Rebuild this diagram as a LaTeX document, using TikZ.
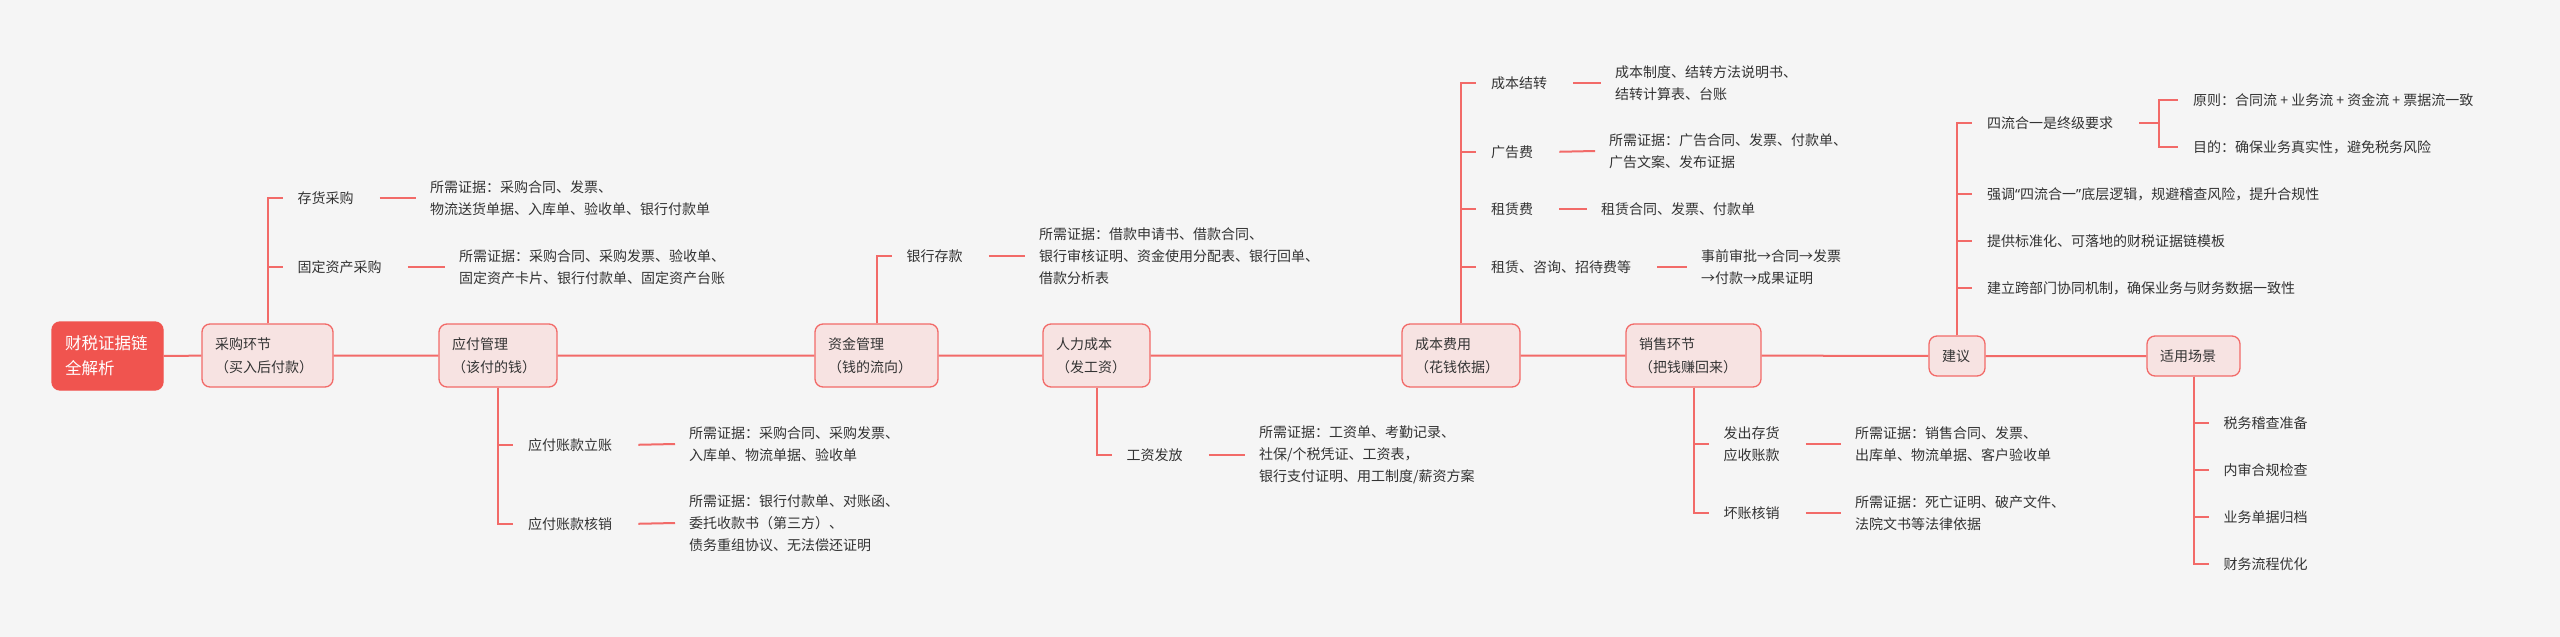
\documentclass[tikz,border=0pt]{standalone}
\usepackage{fontspec}
\setmainfont{Noto Sans CJK SC}
\newfontfamily\quotefont{Noto Sans}
\usepackage{xcolor}
\usepackage{tikz}
\usetikzlibrary{calc,positioning}

\definecolor{bgcol}{HTML}{F5F5F5}
\definecolor{redline}{HTML}{F26A68}
\definecolor{rootred}{HTML}{F0544F}
\definecolor{boxpink}{HTML}{F7E3E2}
\definecolor{txtgray}{HTML}{333333}

\begin{document}
\begin{tikzpicture}[x=1pt, y=-1pt, link/.style = {line width=2pt, draw=redline}]
		\tikzset{stage/.style={draw=redline, line width=1.3pt, rounded corners=8pt, fill=boxpink, inner xsep=13pt, inner ysep=0pt, minimum height=63pt, text width=#1, align=left, text=txtgray, font=\fontsize{14}{23}\selectfont}}
		\tikzset{leaf/.style={anchor=west, inner xsep=15pt, inner ysep=2pt, align=left, text=txtgray, font=\fontsize{14}{22}\selectfont}}
		\tikzset{proof/.style={anchor=west, inner xsep=14pt, inner ysep=2pt, align=left, text=txtgray, font=\fontsize{14}{22}\selectfont}}
		\tikzset{tail/.style={link, shorten <=11pt}}

		\fill[bgcol] (0,0) rectangle (2560,637);

		\node[stage=85pt, minimum height=68pt, fill=rootred, draw=rootred, text=white, font=\fontsize{16.5}{25}\selectfont] (root) at (107.5,356) {财税证据链\\全解析};
		\node[stage=105pt] (caigou) at (267.5,355.5) {采购环节\\（买入后付款）};
		\node[stage=92pt] (yingfu) at (498,355.5) {应付管理\\（该付的钱）};
		\node[stage=97pt] (zijin) at (876.5,355.5) {资金管理\\（钱的流向）};
		\node[stage=81pt] (renli) at (1096.5,355.5) {人力成本\\（发工资）};
		\node[stage=92pt] (chengben) at (1461,355.5) {成本费用\\（花钱依据）};
		\node[stage=109pt] (xiaoshou) at (1693.5,355.5) {销售环节\\（把钱赚回来）};
		\node[stage=30pt, minimum height=40pt] (jianyi) at (1957,356) {建议};
		\node[stage=67pt, minimum height=40pt] (changjing) at (2193.5,356) {适用场景};

		\draw [link] (root) -- (caigou) -- (yingfu) -- (zijin) -- (renli) -- (chengben) -- (xiaoshou) -- (jianyi) -- (changjing);

		\node[leaf] (cunhuo) at (282.5,198) {存货采购};
		\node[proof] (cunhuo-p) at (416,198) {所需证据：采购合同、发票、\\物流送货单据、入库单、验收单、银行付款单};
		\node[leaf] (guding) at (282.5,267) {固定资产采购};
		\node[proof] (guding-p) at (445,267) {所需证据：采购合同、采购发票、验收单、\\固定资产卡片、银行付款单、固定资产台账};
		\draw [link] (caigou.north) |- (cunhuo.west);
		\draw [link] (caigou.north) |- (guding.west);
		\draw [tail] (cunhuo.east) -- (cunhuo-p.west);
		\draw [tail] (guding.east) -- (guding-p.west);

		\node[leaf] (lizhang) at (513,445) {应付账款立账};
		\node[proof] (lizhang-p) at (675,444) {所需证据：采购合同、采购发票、\\入库单、物流单据、验收单};
		\node[leaf] (hexiao) at (513,524) {应付账款核销};
		\node[proof] (hexiao-p) at (675,523) {所需证据：银行付款单、对账函、\\委托收款书（第三方）、\\债务重组协议、无法偿还证明};
		\draw [link] (yingfu.south) |- (lizhang.west);
		\draw [link] (yingfu.south) |- (hexiao.west);
		\draw [tail] (lizhang.east) -- (lizhang-p.west);
		\draw [tail] (hexiao.east) -- (hexiao-p.west);

		\node[leaf] (cunkuan) at (891.5,256) {银行存款};
		\node[proof] (cunkuan-p) at (1025,256) {所需证据：借款申请书、借款合同、\\银行审核证明、资金使用分配表、银行回单、\\借款分析表};
		\draw [link] (zijin.north) |- (cunkuan.west);
		\draw [tail] (cunkuan.east) -- (cunkuan-p.west);

		\node[leaf] (gongzi) at (1111.5,455) {工资发放};
		\node[proof] (gongzi-p) at (1245,455) {所需证据：工资单、考勤记录、\\社保/个税凭证、工资表，\\银行支付证明、用工制度/薪资方案};
		\draw [link] (renli.south) |- (gongzi.west);
		\draw [tail] (gongzi.east) -- (gongzi-p.west);

		\node[leaf] (jiezhuan) at (1476,83) {成本结转};
		\node[proof] (jiezhuan-p) at (1601,83) {成本制度、结转方法说明书、\\结转计算表、台账};
		\node[leaf] (guanggao) at (1476,152) {广告费};
		\node[proof] (guanggao-p) at (1595,151) {所需证据：广告合同、发票、付款单、\\广告文案、发布证据};
		\node[leaf] (zulin) at (1476,209) {租赁费};
		\node[proof] (zulin-p) at (1587,209) {租赁合同、发票、付款单};
		\node[leaf] (zixun) at (1476,267) {租赁、咨询、招待费等};
		\node[proof] (zixun-p) at (1687,267) {事前审批→合同→发票\\→付款→成果证明};
		\draw [link] (chengben.north) |- (jiezhuan.west);
		\draw [link] (chengben.north) |- (guanggao.west);
		\draw [link] (chengben.north) |- (zulin.west);
		\draw [link] (chengben.north) |- (zixun.west);
		\draw [tail] (jiezhuan.east) -- (jiezhuan-p.west);
		\draw [tail] (guanggao.east) -- (guanggao-p.west);
		\draw [tail] (zulin.east) -- (zulin-p.west);
		\draw [tail] (zixun.east) -- (zixun-p.west);

		\node[leaf] (fachu) at (1708.5,444) {发出存货\\应收账款};
		\node[proof] (fachu-p) at (1841,444) {所需证据：销售合同、发票、\\出库单、物流单据、客户验收单};
		\node[leaf] (huaizhang) at (1708.5,513) {坏账核销};
		\node[proof] (huaizhang-p) at (1841,513) {所需证据：死亡证明、破产文件、\\法院文书等法律依据};
		\draw [link] (xiaoshou.south) |- (fachu.west);
		\draw [link] (xiaoshou.south) |- (huaizhang.west);
		\draw [tail] (fachu.east) -- (fachu-p.west);
		\draw [tail] (huaizhang.east) -- (huaizhang-p.west);

		\node[leaf] (silu) at (1972,123) {四流合一是终级要求};
		\coordinate (fork) at (2159,123);
		\node[leaf] (yuanze) at (2178,100) {原则：合同流 + 业务流 + 资金流 + 票据流一致};
		\node[leaf] (mudi) at (2178,147) {目的：确保业务真实性，避免税务风险};
		\node[leaf] (qiangdiao) at (1972,194) {强调{\quotefont “}四流合一{\quotefont ”}底层逻辑，规避稽查风险，提升合规性};
		\node[leaf] (tigong) at (1972,241) {提供标准化、可落地的财税证据链模板};
		\node[leaf] (jianli) at (1972,288) {建立跨部门协同机制，确保业务与财务数据一致性};
		\draw [link] (jianyi.north) |- (silu.west);
		\draw [link] (jianyi.north) |- (qiangdiao.west);
		\draw [link] (jianyi.north) |- (tigong.west);
		\draw [link] (jianyi.north) |- (jianli.west);
		\draw [tail] (silu.east) -- (fork);
		\draw [link] (fork) |- (yuanze.west);
		\draw [link] (fork) |- (mudi.west);

		\node[leaf] (jicha) at (2208.5,423) {税务稽查准备};
		\node[leaf] (neishen) at (2208.5,470) {内审合规检查};
		\node[leaf] (guidang) at (2208.5,517) {业务单据归档};
		\node[leaf] (youhua) at (2208.5,564) {财务流程优化};
		\draw [link] (changjing.south) |- (jicha.west);
		\draw [link] (changjing.south) |- (neishen.west);
		\draw [link] (changjing.south) |- (guidang.west);
		\draw [link] (changjing.south) |- (youhua.west);

	\end{tikzpicture}
\end{document}
